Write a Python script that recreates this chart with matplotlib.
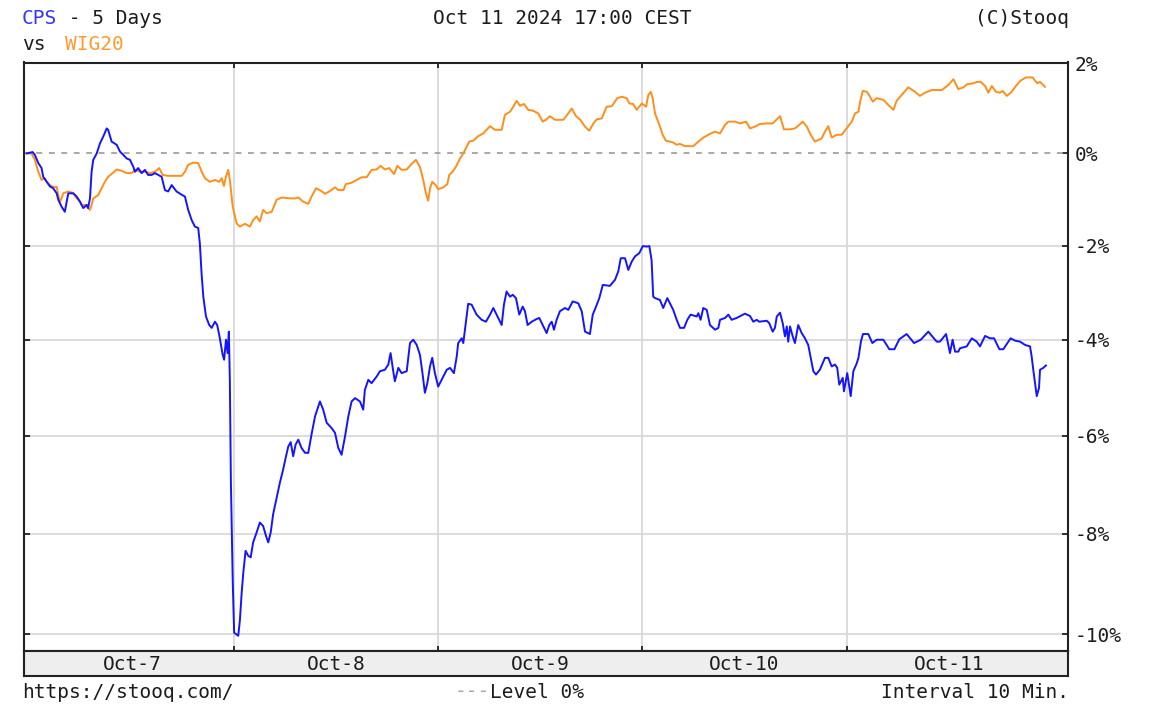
import numpy as np
import matplotlib
matplotlib.use("Agg")
import matplotlib.pyplot as plt

# ---- data (time in trading days since Oct-7 open, value in % change) ----
day_labels = ["Oct-7", "Oct-8", "Oct-9", "Oct-10", "Oct-11"]
y_levels = [2, 0, -2, -4, -6, -8, -10]
y_labels = ["2%", "0%", "-2%", "-4%", "-6%", "-8%", "-10%"]

cps = [
    (-0.015, 0.00), (0.014, 0.03), (0.025, -0.03), (0.042, -0.21), (0.058, -0.32), (0.066, -0.51),
    (0.083, -0.62), (0.099, -0.72), (0.115, -0.76), (0.132, -0.87), (0.140, -1.01), (0.156, -1.16),
    (0.172, -1.27), (0.181, -1.05), (0.189, -0.87), (0.213, -0.87), (0.230, -0.94), (0.246, -1.05),
    (0.262, -1.19), (0.279, -1.12), (0.286, -1.19), (0.295, -0.98), (0.303, -0.40), (0.311, -0.14),
    (0.328, 0.00), (0.344, 0.22), (0.360, 0.37), (0.377, 0.55), (0.384, 0.52), (0.401, 0.26),
    (0.426, 0.19), (0.442, 0.04), (0.458, -0.03), (0.475, -0.11), (0.491, -0.14), (0.507, -0.29),
    (0.515, -0.40), (0.531, -0.32), (0.548, -0.43), (0.564, -0.36), (0.580, -0.47), (0.597, -0.47),
    (0.613, -0.43), (0.629, -0.47), (0.646, -0.51), (0.662, -0.80), (0.678, -0.83), (0.695, -0.69),
    (0.719, -0.83), (0.744, -0.90), (0.760, -0.94), (0.776, -1.23), (0.793, -1.45), (0.809, -1.59),
    (0.825, -1.62), (0.833, -1.95), (0.842, -2.63), (0.850, -3.09), (0.863, -3.51), (0.879, -3.69),
    (0.891, -3.75), (0.907, -3.62), (0.918, -3.69), (0.931, -3.97), (0.945, -4.32), (0.952, -4.42),
    (0.961, -4.00), (0.969, -4.28), (0.975, -3.83), (0.980, -4.87), (0.985, -6.93), (0.994, -8.94),
    (1.001, -9.97), (1.021, -10.03), (1.029, -9.73), (1.038, -9.17), (1.046, -8.77), (1.057, -8.34),
    (1.070, -8.44), (1.082, -8.47), (1.094, -8.17), (1.111, -7.97), (1.127, -7.77), (1.143, -7.84),
    (1.157, -8.04), (1.168, -8.17), (1.180, -7.97), (1.192, -7.60), (1.209, -7.27), (1.225, -6.96),
    (1.241, -6.69), (1.255, -6.42), (1.266, -6.22), (1.278, -6.13), (1.290, -6.42), (1.302, -6.18),
    (1.315, -6.08), (1.331, -6.25), (1.348, -6.35), (1.364, -6.35), (1.380, -5.97), (1.397, -5.60),
    (1.413, -5.39), (1.421, -5.29), (1.437, -5.46), (1.454, -5.73), (1.478, -5.84), (1.495, -5.94),
    (1.511, -6.25), (1.527, -6.39), (1.544, -6.01), (1.560, -5.60), (1.576, -5.29), (1.593, -5.22),
    (1.617, -5.29), (1.633, -5.46), (1.641, -5.05), (1.658, -4.84), (1.674, -4.91), (1.699, -4.77),
    (1.715, -4.66), (1.739, -4.63), (1.756, -4.52), (1.767, -4.28), (1.780, -4.66), (1.788, -4.87),
    (1.805, -4.59), (1.821, -4.70), (1.846, -4.66), (1.862, -4.07), (1.878, -4.00), (1.895, -4.11),
    (1.911, -4.32), (1.924, -4.73), (1.935, -5.11), (1.947, -4.91), (1.960, -4.56), (1.971, -4.38),
    (1.984, -4.70), (2.000, -4.98), (2.017, -4.84), (2.042, -4.63), (2.058, -4.59), (2.077, -4.70),
    (2.091, -4.35), (2.098, -4.07), (2.115, -3.97), (2.123, -4.07), (2.136, -3.62), (2.147, -3.24),
    (2.164, -3.26), (2.188, -3.47), (2.213, -3.58), (2.234, -3.62), (2.254, -3.47), (2.270, -3.33),
    (2.286, -3.47), (2.303, -3.62), (2.311, -3.69), (2.322, -3.26), (2.335, -2.98), (2.352, -3.09),
    (2.365, -3.05), (2.381, -3.12), (2.397, -3.47), (2.414, -3.30), (2.425, -3.40), (2.438, -3.69),
    (2.458, -3.62), (2.479, -3.57), (2.495, -3.54), (2.515, -3.72), (2.531, -3.86), (2.544, -3.69),
    (2.556, -3.62), (2.567, -3.79), (2.580, -3.58), (2.596, -3.40), (2.621, -3.33), (2.637, -3.37),
    (2.659, -3.19), (2.686, -3.23), (2.703, -3.40), (2.719, -3.83), (2.743, -3.88), (2.757, -3.47),
    (2.773, -3.30), (2.789, -3.12), (2.806, -2.84), (2.841, -2.86), (2.866, -2.73), (2.882, -2.55),
    (2.894, -2.27), (2.915, -2.27), (2.931, -2.52), (2.948, -2.34), (2.964, -2.23), (2.985, -2.16),
    (3.002, -2.01), (3.021, -2.02), (3.034, -2.01), (3.045, -2.31), (3.053, -3.09), (3.062, -3.12),
    (3.086, -3.16), (3.102, -3.33), (3.122, -3.12), (3.135, -3.23), (3.151, -3.37), (3.168, -3.58),
    (3.184, -3.75), (3.204, -3.75), (3.220, -3.58), (3.236, -3.47), (3.266, -3.51), (3.274, -3.44),
    (3.285, -3.58), (3.298, -3.33), (3.315, -3.37), (3.331, -3.69), (3.356, -3.79), (3.372, -3.75),
    (3.380, -3.58), (3.405, -3.54), (3.421, -3.47), (3.437, -3.58), (3.462, -3.54), (3.502, -3.45),
    (3.527, -3.50), (3.543, -3.62), (3.560, -3.58), (3.572, -3.62), (3.609, -3.60), (3.621, -3.65),
    (3.638, -3.83), (3.649, -3.75), (3.658, -3.51), (3.674, -3.43), (3.687, -3.65), (3.698, -3.93),
    (3.707, -3.72), (3.714, -4.04), (3.723, -3.72), (3.736, -3.93), (3.747, -4.07), (3.763, -3.69),
    (3.780, -3.86), (3.796, -3.97), (3.812, -4.11), (3.824, -4.38), (3.837, -4.66), (3.850, -4.73),
    (3.869, -4.63), (3.894, -4.38), (3.910, -4.38), (3.927, -4.56), (3.943, -4.52), (3.954, -4.59),
    (3.964, -4.94), (3.981, -4.80), (3.987, -5.08), (4.003, -4.70), (4.020, -5.18), (4.033, -4.66),
    (4.050, -4.49), (4.058, -4.38), (4.070, -4.04), (4.080, -3.88), (4.106, -3.88), (4.126, -4.07),
    (4.147, -4.00), (4.180, -4.00), (4.209, -4.20), (4.234, -4.20), (4.258, -3.99), (4.294, -3.88),
    (4.330, -4.07), (4.363, -4.00), (4.400, -3.83), (4.441, -4.04), (4.457, -4.04), (4.487, -3.88),
    (4.498, -4.11), (4.506, -4.28), (4.519, -4.00), (4.531, -4.25), (4.547, -4.25), (4.555, -4.18),
    (4.588, -4.14), (4.613, -3.97), (4.637, -4.04), (4.653, -4.14), (4.678, -3.92), (4.702, -3.97),
    (4.722, -3.97), (4.748, -4.20), (4.767, -4.20), (4.803, -3.97), (4.825, -4.02), (4.849, -4.04),
    (4.874, -4.11), (4.898, -4.14), (4.906, -4.35), (4.914, -4.63), (4.931, -5.18), (4.942, -5.01),
    (4.947, -4.63), (4.963, -4.59), (4.976, -4.54),
]

wig20 = [
    (-0.007, 0.00), (0.009, 0.00), (0.025, -0.14), (0.042, -0.40), (0.058, -0.58), (0.074, -0.54),
    (0.083, -0.62), (0.099, -0.69), (0.115, -0.73), (0.132, -0.73), (0.140, -0.91), (0.148, -1.05),
    (0.156, -0.98), (0.164, -0.87), (0.189, -0.83), (0.213, -0.86), (0.230, -0.98), (0.246, -1.05),
    (0.254, -1.12), (0.270, -1.12), (0.286, -1.19), (0.295, -1.23), (0.303, -1.12), (0.311, -0.98),
    (0.335, -0.91), (0.352, -0.76), (0.368, -0.62), (0.384, -0.51), (0.406, -0.43), (0.426, -0.35),
    (0.450, -0.38), (0.475, -0.43), (0.499, -0.43), (0.515, -0.36), (0.540, -0.40), (0.564, -0.40),
    (0.589, -0.43), (0.613, -0.40), (0.634, -0.32), (0.651, -0.47), (0.678, -0.49), (0.744, -0.49),
    (0.760, -0.40), (0.776, -0.25), (0.801, -0.20), (0.825, -0.21), (0.842, -0.40), (0.858, -0.54),
    (0.882, -0.62), (0.907, -0.58), (0.928, -0.62), (0.940, -0.54), (0.951, -0.71), (0.961, -0.51),
    (0.972, -0.36), (0.980, -0.58), (0.994, -1.16), (1.013, -1.52), (1.029, -1.59), (1.054, -1.53),
    (1.078, -1.59), (1.094, -1.45), (1.111, -1.37), (1.127, -1.48), (1.143, -1.23), (1.160, -1.30),
    (1.185, -1.27), (1.209, -1.01), (1.234, -0.96), (1.274, -0.98), (1.299, -0.98), (1.315, -0.96),
    (1.339, -1.05), (1.364, -1.10), (1.380, -0.94), (1.402, -0.76), (1.421, -0.80), (1.446, -0.88),
    (1.467, -0.83), (1.495, -0.74), (1.511, -0.80), (1.536, -0.80), (1.548, -0.67), (1.576, -0.64),
    (1.601, -0.58), (1.625, -0.52), (1.650, -0.52), (1.674, -0.36), (1.699, -0.35), (1.718, -0.27),
    (1.739, -0.35), (1.760, -0.32), (1.784, -0.45), (1.800, -0.27), (1.821, -0.36), (1.846, -0.35),
    (1.870, -0.23), (1.891, -0.14), (1.911, -0.30), (1.927, -0.58), (1.940, -0.87), (1.951, -1.03),
    (1.960, -0.76), (1.971, -0.62), (1.988, -0.69), (2.000, -0.78), (2.025, -0.74), (2.045, -0.67),
    (2.054, -0.47), (2.071, -0.40), (2.087, -0.29), (2.107, -0.11), (2.123, 0.00), (2.140, 0.15),
    (2.152, 0.26), (2.172, 0.28), (2.196, 0.38), (2.221, 0.44), (2.254, 0.60), (2.278, 0.52),
    (2.311, 0.52), (2.327, 0.85), (2.352, 0.92), (2.368, 1.03), (2.384, 1.16), (2.401, 1.05),
    (2.420, 1.09), (2.441, 0.96), (2.466, 0.94), (2.490, 0.88), (2.512, 0.70), (2.528, 0.74),
    (2.547, 0.82), (2.572, 0.74), (2.613, 0.74), (2.632, 0.85), (2.654, 0.99), (2.675, 0.82),
    (2.694, 0.75), (2.719, 0.59), (2.740, 0.50), (2.760, 0.66), (2.776, 0.75), (2.801, 0.77),
    (2.825, 1.03), (2.850, 1.04), (2.877, 1.22), (2.899, 1.25), (2.923, 1.22), (2.936, 1.10),
    (2.955, 1.09), (2.972, 0.96), (2.997, 1.10), (3.018, 1.03), (3.029, 1.29), (3.041, 1.36),
    (3.050, 1.22), (3.062, 0.88), (3.086, 0.59), (3.099, 0.41), (3.115, 0.28), (3.135, 0.26),
    (3.151, 0.24), (3.168, 0.19), (3.184, 0.21), (3.208, 0.16), (3.249, 0.16), (3.274, 0.26),
    (3.299, 0.35), (3.331, 0.43), (3.356, 0.48), (3.380, 0.44), (3.405, 0.63), (3.421, 0.70),
    (3.454, 0.70), (3.478, 0.66), (3.508, 0.70), (3.527, 0.55), (3.552, 0.59), (3.576, 0.65),
    (3.609, 0.66), (3.638, 0.66), (3.674, 0.82), (3.693, 0.53), (3.723, 0.53), (3.747, 0.55),
    (3.768, 0.63), (3.785, 0.70), (3.805, 0.59), (3.824, 0.41), (3.845, 0.26), (3.878, 0.33),
    (3.894, 0.48), (3.910, 0.60), (3.927, 0.35), (3.951, 0.41), (3.976, 0.41), (4.000, 0.55),
    (4.025, 0.70), (4.041, 0.88), (4.058, 0.92), (4.066, 1.14), (4.079, 1.38), (4.099, 1.36),
    (4.115, 1.25), (4.128, 1.14), (4.147, 1.22), (4.180, 1.18), (4.204, 1.07), (4.229, 0.96),
    (4.245, 1.16), (4.270, 1.29), (4.302, 1.46), (4.335, 1.36), (4.359, 1.27), (4.384, 1.34),
    (4.417, 1.40), (4.466, 1.40), (4.498, 1.51), (4.523, 1.64), (4.547, 1.42), (4.572, 1.46),
    (4.591, 1.53), (4.621, 1.55), (4.638, 1.58), (4.657, 1.58), (4.678, 1.49), (4.694, 1.34),
    (4.711, 1.49), (4.731, 1.36), (4.751, 1.34), (4.764, 1.38), (4.784, 1.27), (4.808, 1.36),
    (4.829, 1.49), (4.852, 1.61), (4.878, 1.68), (4.911, 1.68), (4.922, 1.61), (4.934, 1.55),
    (4.947, 1.58), (4.963, 1.51), (4.971, 1.47),
]

# ---- figure ----
W, H = 1150, 707
fig = plt.figure(figsize=(W / 100, H / 100), dpi=100)
fig.patch.set_facecolor("white")
FONT = "DejaVu Sans Mono"
FS = 14
CH = FS * 0.6021 * 100 / 72  # character advance in px
TXT = "#1c1c1c"
BLUE = "#1414ff"
ORANGE = "#ff8f1a"


def px(x0, y0, x1, y1):
    return [x0 / W, 1 - y1 / H, (x1 - x0) / W, (y1 - y0) / H]


ax = fig.add_axes(px(24, 62.5, 1068, 651))


def fwd(p):
    return np.log1p(np.asarray(p, dtype=float) / 100.0)


def inv(v):
    return np.expm1(np.asarray(v, dtype=float)) * 100.0


ax.set_yscale("function", functions=(fwd, inv))
ax.set_xlim(-0.028, 5.084)
ax.set_ylim(-10.33, 2.013)

n_days = len(day_labels)
for d in range(1, n_days):
    ax.axvline(d, color="#d9d9d9", lw=1.3, zorder=1)
for lv in y_levels:
    if lv not in (0, 2):
        ax.axhline(lv, color="#d9d9d9", lw=1.3, zorder=1)
ax.axhline(0, color="#a8a8a8", lw=1.4, dashes=(3.0, 3.4), zorder=2)

wt, wv = zip(*wig20)
ct, cv = zip(*cps)
ax.plot(wt, wv, color=ORANGE, lw=1.4, zorder=3)
ax.plot(ct, cv, color=BLUE, lw=1.4, zorder=4)

ax.set_yticks(y_levels)
ax.set_yticklabels(y_labels, fontfamily=FONT, fontsize=FS, color=TXT)
ax.yaxis.set_ticks_position("both")
ax.tick_params(axis="y", direction="in", length=4.5, width=1.2, color="#111111",
               labelright=True, labelleft=False, pad=5)
ax.minorticks_off()
ax.set_xticks(range(1, n_days))
ax.xaxis.set_ticks_position("both")
ax.tick_params(axis="x", direction="in", length=3.5, width=1.2, color="#111111",
               labelbottom=False, labeltop=False)
for s in ax.spines.values():
    s.set_color("#222222")
    s.set_linewidth(1.5)

# date band
bx = fig.add_axes(px(24, 651, 1068, 676))
bx.set_facecolor("#eeeeee")
bx.set_xlim(ax.get_xlim())
bx.set_ylim(0, 1)
bx.set_xticks([])
bx.set_yticks([])
for s in bx.spines.values():
    s.set_color("#222222")
    s.set_linewidth(1.5)
for d, lab in enumerate(day_labels):
    bx.text(d + 0.5, 0.48, lab, ha="center", va="center", fontfamily=FONT,
            fontsize=FS, color=TXT)


# header / footer texts
def ftext(x, y, s, color=TXT, ha="left"):
    fig.text(x / W, 1 - y / H, s, ha=ha, va="center", fontfamily=FONT,
             fontsize=FS, color=color)


ftext(22, 18, "CPS", color="#3535ff")
ftext(22 + 3 * CH, 18, " - 5 Days")
ftext(22, 45, "vs")
ftext(65, 45, "WIG20", color="#ff9a30")
ftext(562, 18, "Oct 11 2024 17:00 CEST", ha="center")
ftext(1069, 18, "(C)Stooq", ha="right")
ftext(22, 692, "https://stooq.com/")
ftext(455, 692, "---", color="#a8a8a8")
ftext(455 + 3 * CH, 692, "Level 0%")
ftext(1069, 692, "Interval 10 Min.", ha="right")

fig.savefig("out.png", dpi=100, facecolor="white")
